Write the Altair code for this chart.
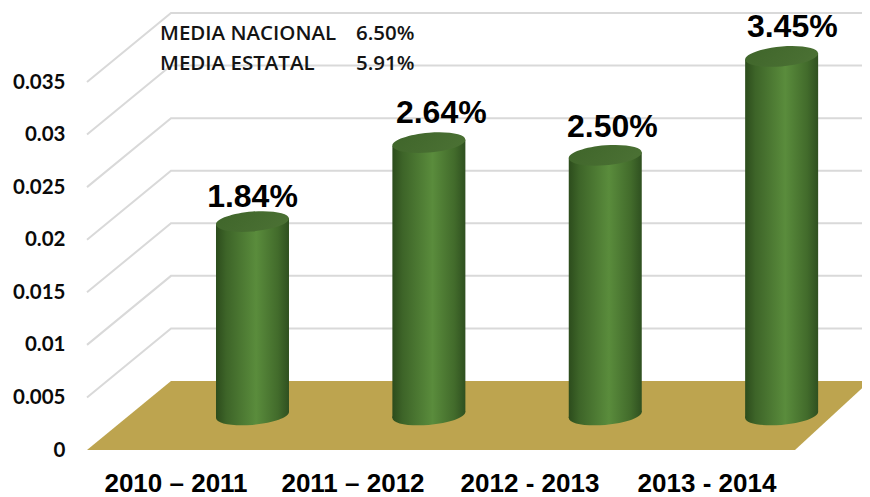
import json
import altair as alt
import pandas as pd

categories = ["2010 – 2011", "2011 – 2012", "2012 - 2013", "2013 - 2014"]
pct_labels = ["1.84%", "2.64%", "2.50%", "3.45%"]
bar_values = [0.0184, 0.0259, 0.0247, 0.0341]
y_ticks = [0, 0.005, 0.01, 0.015, 0.02, 0.025, 0.03, 0.035]
y_tick_labels = ["0", "0.005", "0.01", "0.015", "0.02", "0.025", "0.03", "0.035"]
note_names = ["MEDIA NACIONAL", "MEDIA ESTATAL"]
note_values = ["6.50%", "5.91%"]

# geometry of the fake 3D view, in data units
PX_X = 177.0          # pixels per category
PX_Y = 368.0 / 0.035  # pixels per unit of value
LEFT = -0.5
DEPTH_X = 84 / PX_X
DEPTH_Y = 69 / PX_Y
RIGHT_END = LEFT + 783 / PX_X
BAR_SHIFT = 0.435
BAR_STEP = 0.9965
BAR_HALF = 36.5 / PX_X
BASE = 35 / PX_Y
TILT = 3 / PX_Y
label_dx = [0.0, 0.07, 0.04, 0.06]
label_dy = [0.0023, 0.0028, 0.0027, 0.0028]

label_expr = "{}[datum.value]".format(json.dumps(categories, ensure_ascii=False))
y_label_expr = "{}[indexof({}, datum.value)]".format(json.dumps(y_tick_labels), json.dumps(y_ticks))

x_scale = alt.Scale(domain=[-0.5, 3.5], nice=False, zero=False)
y_scale = alt.Scale(domain=[0, 0.035], nice=False, zero=False)
x_axis = alt.Axis(
    values=[0, 1, 2, 3], labelExpr=label_expr, title=None, domain=False, ticks=False, grid=False,
    labelFont="Liberation Sans", labelFontWeight="bold", labelFontSize=26, labelColor="#000000",
    labelPadding=33, labelBaseline="middle", labelFlush=False, labelOverlap=False)
y_axis = alt.Axis(
    values=y_ticks, labelExpr=y_label_expr, title=None, domain=False, ticks=False, grid=False,
    labelFont="Lato", labelFontWeight="bold", labelFontSize=20.5, labelColor="#0a0a0a",
    labelPadding=22, labelOverlap=False)
X = lambda f: alt.X(f, type="quantitative", scale=x_scale, axis=x_axis)
Y = lambda f: alt.Y(f, type="quantitative", scale=y_scale, axis=y_axis)

# grid: front edge, back corner, back wall
grid_rows = []
for t in y_ticks[1:]:
    grid_rows += [
        {"t": t, "s": 0, "x": LEFT, "y": t},
        {"t": t, "s": 1, "x": LEFT + DEPTH_X, "y": t + DEPTH_Y},
        {"t": t, "s": 2, "x": RIGHT_END, "y": t + DEPTH_Y},
    ]
grid = alt.Chart(pd.DataFrame(grid_rows)).mark_line(color="#d9d9d9", strokeWidth=2).encode(
    x=X("x"), y=Y("y"), detail="t:N", order="s:Q",
)

floor_df = pd.DataFrame({
    "x": [LEFT, LEFT + DEPTH_X, LEFT + 708 / PX_X, RIGHT_END],
    "top": [0, DEPTH_Y, DEPTH_Y, DEPTH_Y],
    "bottom": [0, 0, 0, DEPTH_Y],
})
floor = alt.Chart(floor_df).mark_area(color="#bda44f", opacity=1).encode(
    x=X("x"), y=Y("top"), y2="bottom:Q"
)

body_grad = alt.Gradient(gradient="linear", x1=0, x2=1, y1=0, y2=0, stops=[
    alt.GradientStop(offset=0, color="#2c4c1c"),
    alt.GradientStop(offset=0.14, color="#3d6428"),
    alt.GradientStop(offset=0.55, color="#5a8c3c"),
    alt.GradientStop(offset=0.85, color="#426b2b"),
    alt.GradientStop(offset=1, color="#2f5020"),
])
cap_grad = alt.Gradient(gradient="linear", x1=0, x2=1, y1=0, y2=0.3, stops=[
    alt.GradientStop(offset=0, color="#3f652a"),
    alt.GradientStop(offset=1, color="#4a7033"),
])

centers = [BAR_SHIFT + BAR_STEP * i for i in range(len(categories))]
body_rows = []
for c, v, name in zip(centers, bar_values, categories):
    top = v + BASE
    body_rows += [
        {"cat": name, "x": c - BAR_HALF, "top": top + (-TILT), "bottom": BASE - TILT},
        {"cat": name, "x": c + BAR_HALF, "top": top + TILT, "bottom": BASE + TILT},
    ]
ell_df = pd.DataFrame({
    "cat": categories, "x": centers,
    "top": [v + BASE for v in bar_values],
    "bottom": [BASE] * len(categories),
})
ELLIPSE = "M-1,0.08 A1,0.27 -5 1 1 1,-0.08 A1,0.27 -5 1 1 -1,0.08 Z"
bottoms = alt.Chart(ell_df).mark_point(shape=ELLIPSE, size=73 ** 2, filled=True, fill=body_grad,
                                       stroke=None, opacity=1).encode(x=X("x"), y=Y("bottom"))
bodies = alt.Chart(pd.DataFrame(body_rows)).mark_area(fill=body_grad, opacity=1).encode(
    x=X("x"), y=Y("top"), y2="bottom:Q", detail="cat:N"
)
caps = alt.Chart(ell_df).mark_point(shape=ELLIPSE, size=73 ** 2, filled=True, fill=cap_grad,
                                    stroke=None, opacity=1).encode(x=X("x"), y=Y("top"))

label_df = pd.DataFrame({
    "x": [c + d for c, d in zip(centers, label_dx)],
    "y": [v + BASE + d for v, d in zip(bar_values, label_dy)],
    "t": pct_labels,
})
labels = alt.Chart(label_df).mark_text(font="Liberation Sans", fontWeight="bold", fontSize=32,
                                       color="#000000", baseline="middle").encode(
    x=X("x"), y=Y("y"), text="t:N"
)

NOTE_X_A = LEFT + 73 / PX_X
NOTE_X_B = LEFT + 269 / PX_X
note_y = [0.035 + 48 / PX_Y, 0.035 + 18 / PX_Y]
note_df = pd.DataFrame({"name": note_names, "val": note_values, "y": note_y,
                        "xa": [NOTE_X_A] * 2, "xb": [NOTE_X_B] * 2})
note_style = dict(font="Open Sans", fontSize=20.5, fontWeight=600, color="#141414",
                  align="left", baseline="middle")
notes_a = alt.Chart(note_df).mark_text(**note_style).encode(x=X("xa"), y=Y("y"), text="name:N")
notes_b = alt.Chart(note_df).mark_text(**note_style).encode(x=X("xb"), y=Y("y"), text="val:N")

chart = alt.layer(grid, floor, bottoms, bodies, caps, labels, notes_a, notes_b).properties(
    width=708, height=368,
    autosize=alt.AutoSizeParams(type="none"),
    padding={"left": 79, "top": 74, "right": 67, "bottom": 47},
    background="#ffffff",
).configure_view(stroke=None)

chart.save("out.html", embed_options={"renderer": "svg", "actions": False})
